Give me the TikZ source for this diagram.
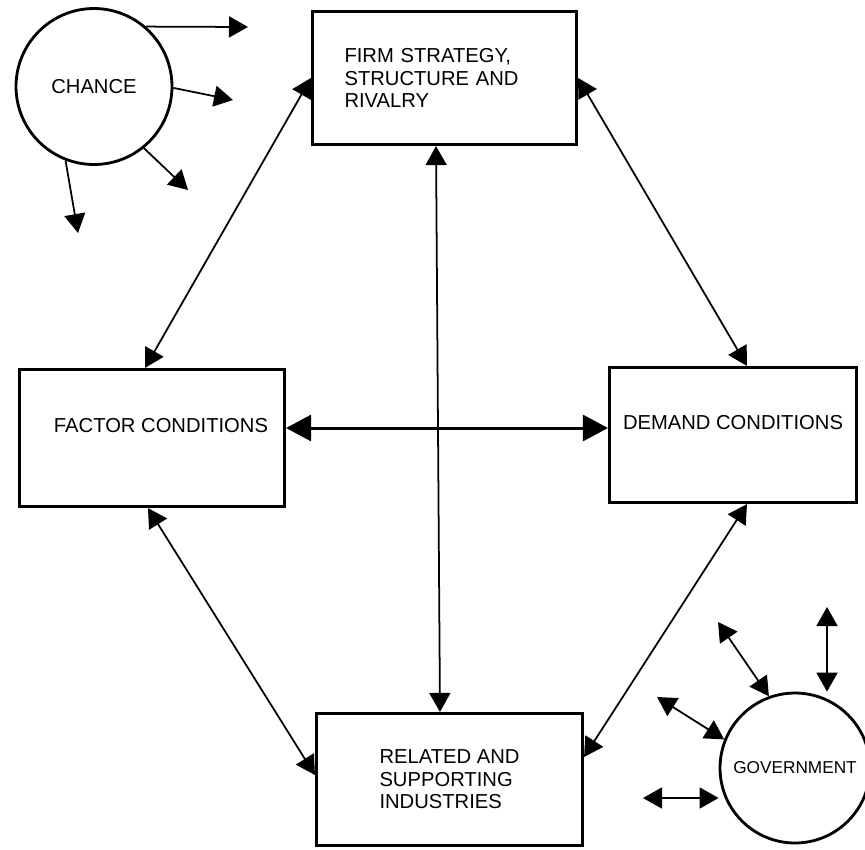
\documentclass[tikz,border=0pt]{standalone}
\usepackage{fontspec}
\setmainfont{Liberation Sans}
\usetikzlibrary{arrows.meta}
\usetikzlibrary{calc,positioning}

\begin{document}
\begin{tikzpicture}[x=0.02cm, y=-0.02cm, >={Triangle[length=0.38cm,width=0.42cm]},
	caixa/.style={draw, rectangle, line width=1.8pt, font=\fontsize{11.5}{12.8}\selectfont},
	alta/.style={text height=0.3cm, text depth=0.54cm},
	circulo/.style={draw, circle, line width=1.6pt, inner sep=0pt},
	ligacao/.style={<->, line width=1pt},
	eixo/.style={{Triangle[length=0.5cm,width=0.52cm]}-{Triangle[length=0.5cm,width=0.52cm]}, line width=1.7pt},
	seta/.style={->, line width=1pt}]

	% Area
	\useasboundingbox (0,0) rectangle (865,849);

	% Caixas
	\node[caixa, minimum width=5.28cm, minimum height=2.66cm, text width=4.0cm, align=left] (firm) at (444.5,78) {FIRM STRATEGY,\\STRUCTURE AND\\RIVALRY};
	\node[caixa, alta, minimum width=5.3cm, minimum height=2.74cm] (factor) at (152,438) {\hspace*{0.36cm}FACTOR CONDITIONS};
	\node[caixa, alta, minimum width=4.94cm, minimum height=2.7cm] (demand) at (733,435) {DEMAND CONDITIONS};
	\node[caixa, minimum width=5.32cm, minimum height=2.64cm, align=left] (related) at (449.5,779.5) {RELATED AND\\SUPPORTING\\INDUSTRIES};

	% Circulos
	\node[circulo, minimum size=3.12cm, font=\fontsize{11.5}{12.8}\selectfont] (chance) at (94,86.5) {CHANCE};
	\node[circulo, minimum size=3.0cm, font=\fontsize{9.8}{11}\selectfont] (gov) at (795,768) {GOVERNMENT};

	% Ligacoes entre as caixas
	\draw[ligacao] (firm.west) -- ([xshift=-0.14cm]factor.north);
	\draw[ligacao] (firm.east) -- ([xshift=0.28cm]demand.north);
	\draw[ligacao] ([xshift=-0.17cm]firm.south) -- ([xshift=-0.19cm]related.north);
	\draw[eixo] ([yshift=0.2cm]factor.east) -- ([yshift=0.2cm]factor.east -| demand.west);
	\draw[ligacao] ([xshift=-0.08cm]factor.south) -- ([yshift=0.09cm]related.west);
	\draw[ligacao] ([xshift=0.28cm]demand.south) -- ([yshift=0.45cm]related.east);

	% Setas do acaso
	\coordinate (c1) at (248,27);
	\coordinate (c2) at (233,100);
	\coordinate (c3) at (188,190);
	\coordinate (c4) at (78,233);
	\draw[seta] (chance.49) -- (c1);
	\draw[seta] (chance.-1) -- (c2);
	\draw[seta] (chance.-51) -- (c3);
	\draw[seta] (chance.-111) -- (c4);

	% Setas do governo
	\coordinate (g1) at (827,607);
	\coordinate (g2) at (718,622);
	\coordinate (g3) at (657,697);
	\coordinate (g4) at (643,798);
	\draw[ligacao] (g1) -- (g1 |- gov.north);
	\draw[ligacao] (g2) -- (gov.110);
	\draw[ligacao] (g3) -- (gov.158);
	\draw[ligacao] (g4) -- (g4 -| gov.west);

\end{tikzpicture}
\end{document}
